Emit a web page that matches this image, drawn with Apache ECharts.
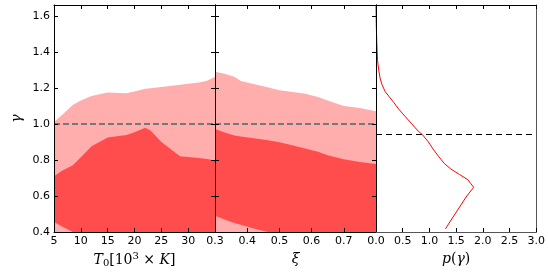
<!DOCTYPE html>
<html>
<head>
<meta charset="utf-8">
<script src="https://cdn.jsdelivr.net/npm/echarts@6/dist/echarts.min.js"></script>
<style>html,body{margin:0;padding:0;background:#fff}#c{width:548px;height:274px}</style>
</head>
<body>
<div id="c"></div>
<script>
// ---- data ----
var t0Grid        = [5, 6.5, 8.5, 10, 12, 15, 18.5, 20, 22, 23, 25, 28.5, 32, 33.5, 35];
var t0LightUpper  = [1.01, 1.05, 1.105, 1.13, 1.155, 1.175, 1.17, 1.18, 1.195, 1.198, 1.205, 1.218, 1.23, 1.24, 1.26];
var t0DarkUpper   = [0.71, 0.74, 0.77, 0.815, 0.876, 0.925, 0.938, 0.953, 0.978, 0.963, 0.90, 0.82, 0.811, 0.805, 0.797];
var t0DarkLower   = [0.455, 0.43, 0.40, 0.385, 0.37, 0.35, 0.34, 0.335, 0.33, 0.33, 0.325, 0.32, 0.32, 0.32, 0.32];

var xiGrid        = [0.3, 0.33, 0.36, 0.38, 0.42, 0.46, 0.5, 0.53, 0.58, 0.62, 0.65, 0.7, 0.75, 0.8];
var xiLightUpper  = [1.289, 1.278, 1.262, 1.238, 1.222, 1.205, 1.187, 1.18, 1.168, 1.15, 1.13, 1.10, 1.088, 1.07];
var xiDarkUpper   = [0.972, 0.952, 0.936, 0.93, 0.92, 0.91, 0.898, 0.886, 0.864, 0.845, 0.826, 0.804, 0.788, 0.778];
var xiDarkLower   = [0.49, 0.47, 0.45, 0.44, 0.42, 0.402, 0.39, 0.38, 0.37, 0.36, 0.355, 0.35, 0.345, 0.34];

var pGammaG = [1.655, 1.55, 1.45, 1.35, 1.30, 1.25, 1.22, 1.18, 1.15, 1.12, 1.08, 1.04, 1.0, 0.96, 0.94, 0.90, 0.86, 0.82, 0.78, 0.75, 0.72, 0.69, 0.67, 0.648, 0.60, 0.55, 0.50, 0.45, 0.417];
var pGammaP = [0.0, 0.005, 0.015, 0.03, 0.05, 0.08, 0.11, 0.17, 0.25, 0.33, 0.43, 0.55, 0.67, 0.79, 0.87, 0.98, 1.07, 1.17, 1.28, 1.40, 1.56, 1.72, 1.77, 1.83, 1.70, 1.59, 1.48, 1.37, 1.30];

var gammaRef = 1.0;
var pGammaRef = 0.938;

var yTicks = { min: 0.4, max: 1.66, interval: 0.2 };
var t0Ticks = { min: 5, max: 35, interval: 5 };
var xiTicks = { min: 0.3, max: 0.8, interval: 0.1 };
var pTicks = { min: 0, max: 3, interval: 0.5 };

// ---- styles ----
var LIGHT = '#FFADAD', DARK = '#FF4D4D';
var serif = 'DejaVu Serif';
function fmt1(v) { return (+v).toFixed(1); }
function fmt0(v) { return (+v).toFixed(0); }

function pairs(xs, ys) { return xs.map(function (x, i) { return [x, ys[i]]; }); }

function bandSeries(xi, yi, data, color, z) {
  return {
    type: 'line', xAxisIndex: xi, yAxisIndex: yi, data: data,
    showSymbol: false, symbol: 'none', silent: true, z: z,
    lineStyle: { width: 0, opacity: 0 },
    areaStyle: { color: color, opacity: 1, origin: 'start' }
  };
}

function xAx(grid, t, pos, opts) {
  var a = {
    type: 'value', gridIndex: grid, position: pos, min: t.min, max: t.max, interval: t.interval, z: 10,
    axisLine: { show: true, onZero: false, lineStyle: { color: opts.lineColor || '#000', width: 1 } },
    axisTick: { show: opts.tick !== false, inside: true, length: 4, lineStyle: { color: '#000', width: 1 } },
    axisLabel: { show: !!opts.label, margin: 4, showMaxLabel: opts.showMax !== false, showMinLabel: true, formatter: opts.fmt || fmt1, fontFamily: 'DejaVu Sans', fontSize: 11, color: '#000' },
    splitLine: { show: false }
  };
  if (opts.name) { a.name = opts.name; a.nameLocation = 'middle'; a.nameGap = opts.nameGap || 16; a.nameTextStyle = opts.nameTextStyle; }
  return a;
}
function yAx(grid, pos, opts) {
  var a = {
    type: 'value', gridIndex: grid, position: pos, min: yTicks.min, max: yTicks.max, interval: yTicks.interval, z: 10,
    axisLine: { show: true, onZero: false, lineStyle: { color: opts.lineColor || '#000', width: 1 } },
    axisTick: { show: opts.tick !== false, inside: true, length: 4, lineStyle: { color: '#000', width: 1 } },
    axisLabel: { show: !!opts.label, margin: 4, showMaxLabel: false, formatter: fmt1, fontFamily: 'DejaVu Sans', fontSize: 11, color: '#000' },
    splitLine: { show: false }
  };
  if (opts.name) { a.name = opts.name; a.nameLocation = 'middle'; a.nameGap = 30; a.nameRotate = 90; a.nameTextStyle = opts.nameTextStyle; }
  return a;
}

var mathRich = {
  i: { fontFamily: serif, fontStyle: 'italic', fontSize: 14, color: '#000' },
  n: { fontFamily: serif, fontSize: 14, color: '#000' },
  sub: { fontFamily: serif, fontSize: 10, color: '#000', padding: [6, 0, 0, 0] },
  sup: { fontFamily: serif, fontSize: 10, color: '#000', padding: [0, 0, 7, 0] }
};

var chart = echarts.init(document.getElementById('c'), null, { renderer: 'canvas' });
chart.setOption({
  animation: false,
  backgroundColor: '#fff',
  grid: [
    { left: 54, top: 5, width: 161, height: 227 },
    { left: 215, top: 5, width: 161, height: 227 },
    { left: 376, top: 5, width: 161, height: 227 }
  ],
  xAxis: [
    xAx(0, t0Ticks, 'bottom', { label: true, showMax: false, fmt: fmt0, name: '{i|T}{sub|0}{n|[10}{sup|3}{n| × }{i|K}{n|]}', nameGap: 15, nameTextStyle: { rich: mathRich } }),
    xAx(0, t0Ticks, 'top', {}),
    xAx(1, xiTicks, 'bottom', { label: true, showMax: false, name: '{i|ξ}', nameGap: 16, nameTextStyle: { rich: mathRich } }),
    xAx(1, xiTicks, 'top', {}),
    xAx(2, pTicks, 'bottom', { label: true, lineColor: '#555', name: '{i|p}{n|(}{i|γ}{n|)}', nameGap: 16, nameTextStyle: { rich: mathRich } }),
    xAx(2, pTicks, 'top', {})
  ],
  yAxis: [
    yAx(0, 'left', { label: true, name: '{i|γ}', nameTextStyle: { rich: mathRich } }),
    yAx(0, 'right', {}),
    yAx(1, 'left', {}),
    yAx(1, 'right', {}),
    yAx(2, 'left', { tick: false }),
    yAx(2, 'right', { tick: false, lineColor: '#555' })
  ],
  series: [
    bandSeries(0, 0, pairs(t0Grid, t0LightUpper), LIGHT, 1),
    bandSeries(0, 0, pairs(t0Grid, t0DarkUpper), DARK, 2),
    bandSeries(0, 0, pairs(t0Grid, t0DarkLower), LIGHT, 3),
    bandSeries(2, 2, pairs(xiGrid, xiLightUpper), LIGHT, 1),
    bandSeries(2, 2, pairs(xiGrid, xiDarkUpper), DARK, 2),
    bandSeries(2, 2, pairs(xiGrid, xiDarkLower), LIGHT, 3),
    {
      type: 'line', xAxisIndex: 0, yAxisIndex: 0, data: [], z: 5, silent: true,
      markLine: { silent: true, symbol: 'none', label: { show: false }, animation: false,
        lineStyle: { type: [6, 3], color: '#777', width: 2 }, data: [{ yAxis: gammaRef }] }
    },
    {
      type: 'line', xAxisIndex: 2, yAxisIndex: 2, data: [], z: 5, silent: true,
      markLine: { silent: true, symbol: 'none', label: { show: false }, animation: false,
        lineStyle: { type: [6, 3], color: '#777', width: 2 }, data: [{ yAxis: gammaRef }] }
    },
    {
      type: 'line', xAxisIndex: 4, yAxisIndex: 4, data: pairs(pGammaP, pGammaG), z: 5, silent: true,
      showSymbol: false, symbol: 'none', lineStyle: { color: '#FF0000', width: 1 },
      markLine: { silent: true, symbol: 'none', label: { show: false }, animation: false,
        lineStyle: { type: [6, 4], color: '#000', width: 1 }, data: [{ yAxis: pGammaRef }] }
    }
  ]
});
</script>
</body>
</html>
